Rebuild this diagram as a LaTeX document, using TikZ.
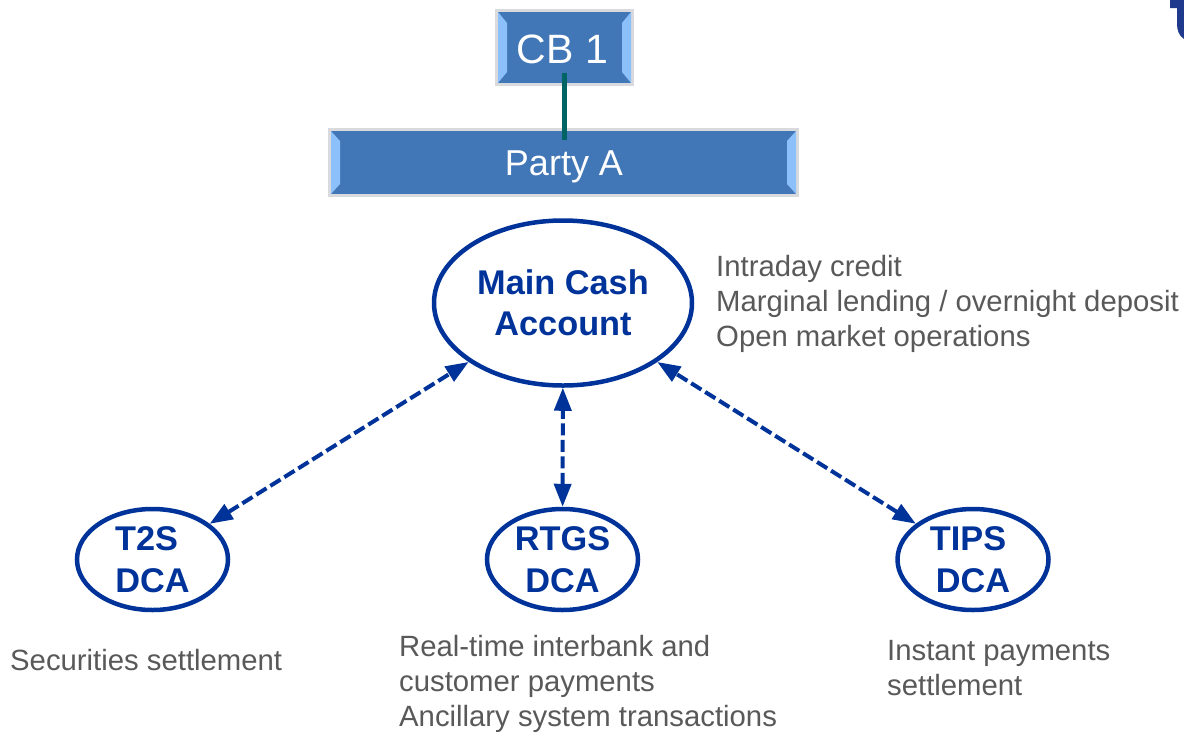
\documentclass[tikz,border=0pt]{standalone}
\usepackage{fontspec}
\setmainfont{Liberation Sans}
\usetikzlibrary{shapes.geometric,arrows.meta,calc}
\definecolor{boxblue}{HTML}{4177B7}
\definecolor{boxedge}{HTML}{D8DADD}
\definecolor{bevellight}{HTML}{8CC0FB}
\definecolor{navy}{HTML}{00339A}
\definecolor{teal2}{HTML}{006464}
\definecolor{labelgray}{HTML}{595959}
\definecolor{logoblue}{HTML}{1F3A8C}
\tikzset{
  bevelbox/.style={rectangle,draw=boxedge,line width=3pt,fill=boxblue,text=white,inner sep=0pt,outer sep=0pt,align=center},
  bigoval/.style={ellipse,draw=navy,line width=4.5pt,fill=white,text=navy,inner sep=0pt,align=center,font=\bfseries\fontsize{34.3}{41}\selectfont},
  dcaoval/.style={bigoval,minimum width=151pt,minimum height=101pt,font=\bfseries\fontsize{34.3}{42}\selectfont,execute at begin node=\rule{0pt}{28pt}},
  link/.style={draw=navy,line width=4pt,dash pattern=on 12pt off 4.5pt,{Triangle[length=23pt,width=17pt]}-{Triangle[length=23pt,width=17pt]}},
  info/.style={anchor=west,text=labelgray,align=left,inner sep=0pt,font=\fontsize{29.3}{35}\selectfont},
  trunk/.style={draw=teal2,line width=5pt}
}
\newcommand{\bevelsides}[3]{%
  \fill[bevellight] ($(#1.north west)+(1.5pt,-1.5pt)$) -- ++(#2,-#3) -- ($(#1.south west)+(1.5pt,1.5pt)+(#2,#3)$) -- ($(#1.south west)+(1.5pt,1.5pt)$) -- cycle;
  \fill[bevellight] ($(#1.north east)+(-1.5pt,-1.5pt)$) -- ++(-#2,-#3) -- ($(#1.south east)+(-1.5pt,1.5pt)+(-#2,#3)$) -- ($(#1.south east)+(-1.5pt,1.5pt)$) -- cycle;
}
\begin{document}
\begin{tikzpicture}[x=1pt,y=-1pt]
\useasboundingbox[fill=white] (0,0) rectangle (1184,732);
\node[bevelbox,minimum width=136pt,minimum height=74pt] (cb) at (564.5,47.5) {};
\bevelsides{cb}{9pt}{11pt}
\node[text=white,inner sep=0pt,font=\fontsize{41}{48}\selectfont] (cbt) at (562.5,49) {CB 1};
\node[bevelbox,minimum width=468pt,minimum height=66pt] (party) at (563.5,162.5) {};
\bevelsides{party}{9pt}{10pt}
\node[text=white,inner sep=0pt,font=\fontsize{36}{44}\selectfont] (partyt) at (564,166.5) {Party A};
\draw[trunk,shorten <=-12pt,shorten >=-10pt] (cb.south) -- (cb.south |- party.north);

\node[bigoval,minimum width=258pt,minimum height=165pt] (main) at (563,303) {Main Cash\\Account};
\node[dcaoval] (t2s) at (152.5,559.5) {T2S\rule{12pt}{0pt}\\DCA};
\node[dcaoval] (rtgs) at (562.5,559.5) {RTGS\\DCA};
\node[dcaoval] (tips) at (973,559.5) {TIPS\rule{10pt}{0pt}\\DCA};

\draw[link] (t2s) -- (main);
\draw[link] (rtgs) -- (main);
\draw[link] (tips) -- (main);

\node[info] (mainl) at (716,304) {Intraday credit\\Marginal lending / overnight deposit\\Open market operations};
\node[info] (t2sl) at (10,660) {Securities settlement};
\node[info] (rtgsl) at (399,683.5) {Real-time interbank and\\customer payments\\Ancillary system transactions};
\node[info] (tipsl) at (887,668) {Instant payments\\settlement};

\fill[logoblue] (1170,0) -- (1184,0) -- (1184,39) .. controls (1179,36) and (1177,30) .. (1177,24) -- (1177,8) -- (1170,8) -- cycle;
\end{tikzpicture}
\end{document}
